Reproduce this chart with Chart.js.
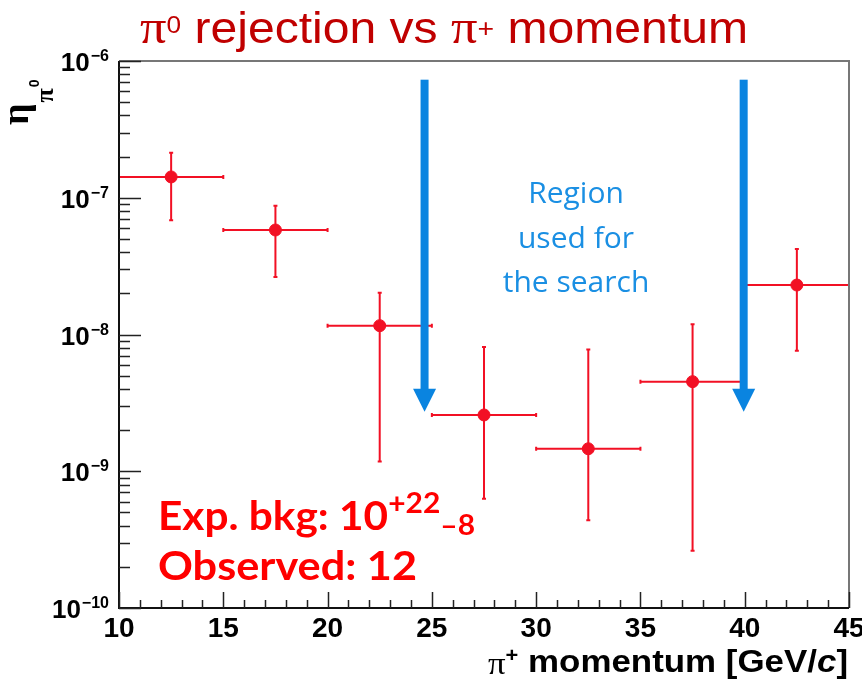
<!DOCTYPE html>
<html>
<head>
<meta charset="utf-8">
<title>pi0 rejection vs pi+ momentum</title>
<script src="https://cdn.jsdelivr.net/npm/chart.js@4/dist/chart.umd.min.js"></script>
<style>
  html, body { margin: 0; padding: 0; background: #fff; }
  canvas { display: block; }
</style>
</head>
<body>
<canvas id="etaChart" width="862" height="684"></canvas>
<script>
// momentum bins [GeV/c]
const momentum = [12.5, 17.5, 22.5, 27.5, 32.5, 37.5, 42.5];
const binHalfWidth = [2.5, 2.5, 2.5, 2.5, 2.5, 2.5, 2.5];

// pi0 rejection per bin and the ends of its error bar
const rejection     = [1.42e-7, 5.81e-8, 1.16e-8, 2.58e-9, 1.46e-9, 4.52e-9, 2.30e-8];
const rejectionHigh = [2.13e-7, 8.74e-8, 2.02e-8, 8.09e-9, 7.78e-9, 1.19e-8, 4.22e-8];
const rejectionLow  = [6.84e-8, 2.63e-8, 1.18e-9, 6.30e-10, 4.38e-10, 2.62e-10, 7.60e-9];

// edges of the search region, drawn as arrows
const arrowMomentum = [24.65, 39.95];
const arrowFrom = [7.3e-7, 7.3e-7];
const arrowTo = [2.72e-9, 2.72e-9];

const xTickValues = [10, 15, 20, 25, 30, 35, 40, 45];
const yTickExponents = [-10, -9, -8, -7, -6];

const RED = 'rgb(242, 16, 36)';
const DARK_RED = '#C00000';
const BLUE = '#0A84E0';
const TEXT_BLUE = '#1A8FE3';
const SANS = '"Liberation Sans", Arial, sans-serif';
const SERIF = '"Liberation Serif", "Times New Roman", serif';

// draw a row of text pieces [text, font, dy], optionally squeezed to a width
function drawRuns(ctx, runs, x, y, width) {
    let total = 0;
    runs.forEach(r => { ctx.font = r[1]; total += ctx.measureText(r[0]).width; });
    const sx = width ? width / total : 1;
    ctx.save();
    ctx.translate(x, y);
    ctx.scale(sx, 1);
    let cx = 0;
    runs.forEach(r => {
        ctx.font = r[1];
        ctx.fillText(r[0], cx, r[2] || 0);
        cx += ctx.measureText(r[0]).width;
    });
    ctx.restore();
}

function drawErrorBars(chart) {
    const ctx = chart.ctx;
    const xs = chart.scales.x, ys = chart.scales.y;
    ctx.save();
    ctx.strokeStyle = RED;
    ctx.lineWidth = 2;
    momentum.forEach((m, i) => {
        const px = xs.getPixelForValue(m);
        const py = ys.getPixelForValue(rejection[i]);
        const x0 = xs.getPixelForValue(m - binHalfWidth[i]);
        const x1 = xs.getPixelForValue(m + binHalfWidth[i]);
        const y0 = ys.getPixelForValue(rejectionHigh[i]);
        const y1 = ys.getPixelForValue(rejectionLow[i]);
        ctx.beginPath();
        ctx.moveTo(x0, py); ctx.lineTo(x1, py);
        ctx.moveTo(px, y0); ctx.lineTo(px, y1);
        // small end caps
        ctx.moveTo(x0, py - 2); ctx.lineTo(x0, py + 2);
        ctx.moveTo(x1, py - 2); ctx.lineTo(x1, py + 2);
        ctx.moveTo(px - 2, y0); ctx.lineTo(px + 2, y0);
        ctx.moveTo(px - 2, y1); ctx.lineTo(px + 2, y1);
        ctx.stroke();
    });
    ctx.restore();
}

function drawArrows(chart) {
    const ctx = chart.ctx;
    const xs = chart.scales.x, ys = chart.scales.y;
    ctx.save();
    ctx.fillStyle = BLUE;
    arrowMomentum.forEach((m, i) => {
        const px = xs.getPixelForValue(m);
        const top = ys.getPixelForValue(arrowFrom[i]);
        const tip = ys.getPixelForValue(arrowTo[i]);
        const head = 23;
        ctx.fillRect(px - 4, top, 8, tip - head - top + 1);
        ctx.beginPath();
        ctx.moveTo(px - 11.5, tip - head);
        ctx.lineTo(px + 11.5, tip - head);
        ctx.lineTo(px, tip);
        ctx.closePath();
        ctx.fill();
    });
    ctx.restore();
}

function drawFrameAndTicks(chart) {
    const ctx = chart.ctx;
    const xs = chart.scales.x, ys = chart.scales.y;
    const a = chart.chartArea;
    ctx.save();
    ctx.lineWidth = 2;
    ctx.strokeStyle = '#777';
    ctx.beginPath();
    ctx.moveTo(a.left, a.top); ctx.lineTo(a.right, a.top); ctx.lineTo(a.right, a.bottom);
    ctx.stroke();
    ctx.strokeStyle = '#111';
    ctx.beginPath();
    ctx.moveTo(a.left, a.top); ctx.lineTo(a.left, a.bottom); ctx.lineTo(a.right, a.bottom);
    ctx.stroke();

    // inward ticks, ROOT style
    ctx.lineWidth = 1.5;
    ctx.strokeStyle = '#222';
    ctx.beginPath();
    for (let e = -10; e <= -6; e++) {
        for (let k = 1; k <= 9; k++) {
            if (e === -6 && k > 1) break;
            const py = Math.round(ys.getPixelForValue(k * Math.pow(10, e))) + 0.5;
            const len = k === 1 ? 22 : 11;
            ctx.moveTo(a.left, py); ctx.lineTo(a.left + len, py);
        }
    }
    for (let v = 10; v <= 45; v++) {
        const px = Math.round(xs.getPixelForValue(v)) + 0.5;
        const len = v % 5 === 0 ? 16 : 8;
        ctx.moveTo(px, a.bottom); ctx.lineTo(px, a.bottom - len);
    }
    ctx.stroke();
    ctx.restore();
}

function drawLabels(chart) {
    const ctx = chart.ctx;
    const xs = chart.scales.x, ys = chart.scales.y;
    const a = chart.chartArea;
    ctx.save();
    ctx.fillStyle = '#000';
    ctx.textBaseline = 'alphabetic';

    // x tick labels
    ctx.textAlign = 'center';
    ctx.font = 'bold 28px ' + SANS;
    xTickValues.forEach(v => ctx.fillText(String(v), xs.getPixelForValue(v), a.bottom + 29));

    // y tick labels, 10 with a raised exponent
    ctx.textAlign = 'left';
    yTickExponents.forEach(e => {
        const py = ys.getPixelForValue(Math.pow(10, e));
        const exp = '\u2212' + Math.abs(e);
        ctx.font = 'bold 16px ' + SANS;
        const we = ctx.measureText(exp).width;
        ctx.font = 'bold 26px ' + SANS;
        const wb = ctx.measureText('10').width;
        const right = 109;
        ctx.fillText('10', right - we - 1 - wb, py + 10);
        ctx.font = 'bold 16px ' + SANS;
        ctx.fillText(exp, right - we, py);
    });

    // y axis title: eta with pi0 subscript, rotated
    ctx.save();
    ctx.translate(28, 125);
    ctx.rotate(-Math.PI / 2);
    ctx.font = 'bold 38px ' + SERIF;
    ctx.fillText('\u03b7', 0, 0);
    const we = ctx.measureText('\u03b7').width;
    ctx.font = 'bold 26px ' + SERIF;
    ctx.fillText('\u03c0', we + 1, 25);
    const wp = ctx.measureText('\u03c0').width;
    ctx.font = 'bold 14px ' + SANS;
    ctx.fillText('0', we + wp + 2, 11);
    ctx.restore();

    // x axis title
    drawRuns(ctx, [
        ['\u03c0', '32px ' + SERIF, 2],
        ['+', 'bold 20px ' + SANS, -10],
        [' momentum [GeV/', 'bold 32px ' + SANS],
        ['c', 'italic bold 32px ' + SANS],
        [']', 'bold 32px ' + SANS]
    ], 488, 672, 360);

    // chart title
    ctx.fillStyle = DARK_RED;
    drawRuns(ctx, [
        ['\u03c0', '48px ' + SERIF],
        ['0', '24px ' + SANS, -10],
        [' rejection vs ', '44px ' + SANS],
        ['\u03c0', '48px ' + SERIF],
        ['+', '26px ' + SANS, -6],
        [' momentum', '44px ' + SANS]
    ], 140, 43, 608);

    // search region note
    ctx.fillStyle = TEXT_BLUE;
    ctx.textAlign = 'center';
    ctx.font = '30px "Open Sans", sans-serif';
    ['Region', 'used for', 'the search'].forEach((t, i) => ctx.fillText(t, 576, 203 + i * 44.5));

    // expected background and observed count
    ctx.textAlign = 'left';
    ctx.fillStyle = '#FF0000';
    drawRuns(ctx, [
        ['Exp. bkg: 10', 'bold 41px Lato, sans-serif'],
        ['+22', 'bold 29px Lato, sans-serif', -17],
        ['\u20138', 'bold 29px Lato, sans-serif', 5]
    ], 158, 530, 317);
    drawRuns(ctx, [['Observed: 12', 'bold 41px Lato, sans-serif']], 158, 580, 259);
    ctx.restore();
}

const rootStyle = {
    id: 'rootStyle',
    beforeDatasetsDraw(chart) { drawErrorBars(chart); },
    afterDatasetsDraw(chart) { drawArrows(chart); },
    afterDraw(chart) {
        drawFrameAndTicks(chart);
        drawLabels(chart);
    }
};

new Chart(document.getElementById('etaChart'), {
    type: 'scatter',
    data: {
        datasets: [{
            data: momentum.map((m, i) => ({ x: m, y: rejection[i] })),
            pointRadius: 6,
            pointBackgroundColor: RED,
            pointBorderColor: RED,
            pointBorderWidth: 1,
            showLine: false
        }]
    },
    options: {
        responsive: false,
        animation: false,
        events: [],
        layout: { padding: { left: 119, right: 13, top: 61, bottom: 76 } },
        plugins: { legend: { display: false }, tooltip: { enabled: false } },
        scales: {
            x: {
                type: 'linear', min: 10, max: 45,
                grid: { display: false }, border: { display: false }, ticks: { display: false },
                afterFit: s => { s.height = 0; }
            },
            y: {
                type: 'logarithmic', min: 1e-10, max: 1e-6,
                grid: { display: false }, border: { display: false }, ticks: { display: false },
                afterFit: s => { s.width = 0; }
            }
        }
    },
    plugins: [rootStyle]
});
</script>
</body>
</html>
